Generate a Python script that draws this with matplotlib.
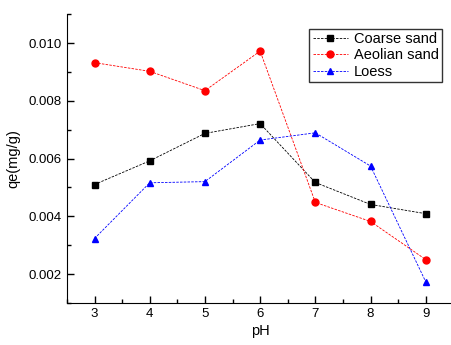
import matplotlib.pyplot as plt
from matplotlib.ticker import MultipleLocator

plt.rcParams["font.family"] = ["Liberation Sans", "DejaVu Sans"]

ph = [3, 4, 5, 6, 7, 8, 9]
coarse_sand = [0.00510, 0.00592, 0.00687, 0.00721, 0.00517, 0.00441, 0.00409]
aeolian_sand = [0.00932, 0.00902, 0.00835, 0.00972, 0.00448, 0.00382, 0.00250]
loess = [0.00323, 0.00516, 0.00520, 0.00664, 0.00689, 0.00574, 0.00173]

fig = plt.figure(figsize=(4.52, 3.45), dpi=100)
ax = fig.add_axes([0.148, 0.122, 0.855, 0.837])

ax.plot(ph, coarse_sand, color="black", marker="s", markersize=4.5,
        linestyle=(0, (3, 1.5)), linewidth=0.6, label="Coarse sand")
ax.plot(ph, aeolian_sand, color="red", marker="o", markersize=5,
        linestyle=(0, (3, 1.5)), linewidth=0.6, label="Aeolian sand")
ax.plot(ph, loess, color="blue", marker="^", markersize=5,
        linestyle=(0, (3, 1.5)), linewidth=0.6, label="Loess")

ax.set_xlim(2.5, 9.5)
ax.set_ylim(0.001, 0.011)
ax.xaxis.set_major_locator(MultipleLocator(1))
ax.xaxis.set_minor_locator(MultipleLocator(0.5))
ax.yaxis.set_major_locator(MultipleLocator(0.002))
ax.yaxis.set_minor_locator(MultipleLocator(0.001))
ax.yaxis.set_major_formatter(plt.FormatStrFormatter("%.3f"))
ax.tick_params(which="both", direction="in", labelsize=9.5, width=1)
ax.tick_params(which="major", length=5)
ax.tick_params(which="minor", length=3)

ax.spines["top"].set_visible(False)
ax.spines["right"].set_visible(False)

ax.set_xlabel("pH", fontsize=10.5, labelpad=3)
ax.set_ylabel("qe(mg/g)", fontsize=10.5, labelpad=6)

leg = ax.legend(loc="upper right", bbox_to_anchor=(0.99, 0.975), fontsize=10.5,
                frameon=True, fancybox=False, edgecolor="black",
                handlelength=2.4, handletextpad=0.4, borderpad=0.25,
                labelspacing=0.15)
leg.get_frame().set_linewidth(1)

plt.savefig("out.png", dpi=100)
